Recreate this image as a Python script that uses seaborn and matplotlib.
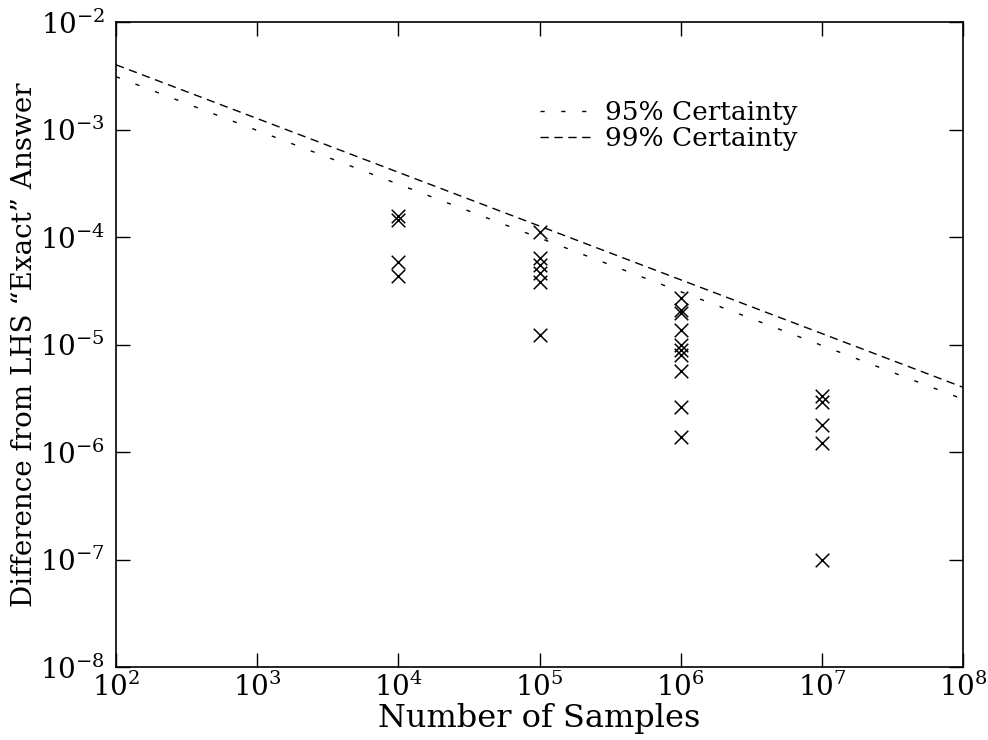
import numpy as np
import pandas as pd
import seaborn as sns
import matplotlib.pyplot as plt
from matplotlib.ticker import LogLocator, NullLocator

# --- data ---
samples_1e4 = [1.57e-4, 1.45e-4, 5.85e-5, 4.33e-5]
samples_1e5 = [1.11e-4, 6.4e-5, 5.5e-5, 4.6e-5, 3.8e-5, 1.22e-5]
samples_1e6 = [2.69e-5, 2.09e-5, 1.95e-5, 1.36e-5, 9.9e-6, 8.9e-6, 8.0e-6,
               5.7e-6, 2.6e-6, 1.39e-6]
samples_1e7 = [3.3e-6, 2.9e-6, 1.8e-6, 1.2e-6, 1.0e-7]

line_n = [1e2, 1e8]
cert95 = [3.1e-3, 3.1e-6]
cert99 = [4.0e-3, 4.0e-6]

# --- style ---
sns.set_style('ticks')
plt.rcParams['font.family'] = ['DejaVu Serif']
plt.rcParams['mathtext.fontset'] = 'dejavuserif'
plt.rcParams['xtick.direction'] = 'in'
plt.rcParams['ytick.direction'] = 'in'
plt.rcParams['text.color'] = 'black'
plt.rcParams['axes.labelcolor'] = 'black'

pts = pd.DataFrame({
    'n': [1e4] * len(samples_1e4) + [1e5] * len(samples_1e5)
         + [1e6] * len(samples_1e6) + [1e7] * len(samples_1e7),
    'diff': samples_1e4 + samples_1e5 + samples_1e6 + samples_1e7,
})

fig = plt.figure(figsize=(9.88, 7.4), dpi=100)
ax = fig.add_axes([116 / 988, 1 - 667 / 740, (963 - 116) / 988, (667 - 22) / 740])

ax.plot(line_n, cert95, color='black', lw=1, dashes=(3, 12), label='95% Certainty')
ax.plot(line_n, cert99, color='black', lw=1, dashes=(6, 4), label='99% Certainty')

sns.scatterplot(data=pts, x='n', y='diff', marker='x', color='black',
                s=95, linewidth=1.1, ax=ax, legend=False, zorder=3)

ax.set_xscale('log')
ax.set_yscale('log')
ax.set_xlim(1e2, 1e8)
ax.set_ylim(1e-8, 1e-2)
ax.xaxis.set_major_locator(LogLocator(base=10, numticks=10))
ax.yaxis.set_major_locator(LogLocator(base=10, numticks=10))
ax.xaxis.set_minor_locator(NullLocator())
ax.yaxis.set_minor_locator(NullLocator())
ax.tick_params(which='major', length=10, width=1, top=True, right=True,
               labelsize=20, colors='black')
ax.tick_params(axis='x', pad=4)
ax.tick_params(axis='y', pad=8)
for s in ax.spines.values():
    s.set_linewidth(1.2)
    s.set_color('black')

ax.set_xlabel('Number of Samples', fontsize=23, labelpad=1)
ax.set_ylabel('Difference from LHS \u201cExact\u201d Answer', fontsize=20, labelpad=1)

ax.legend(loc='upper left', bbox_to_anchor=(540 / 988, 1 - 100 / 740),
          bbox_transform=fig.transFigure, frameon=False, fontsize=19,
          handlelength=1.9, handletextpad=0.55, borderpad=0, borderaxespad=0,
          labelspacing=0.05)

fig.savefig('out.png', dpi=100)
